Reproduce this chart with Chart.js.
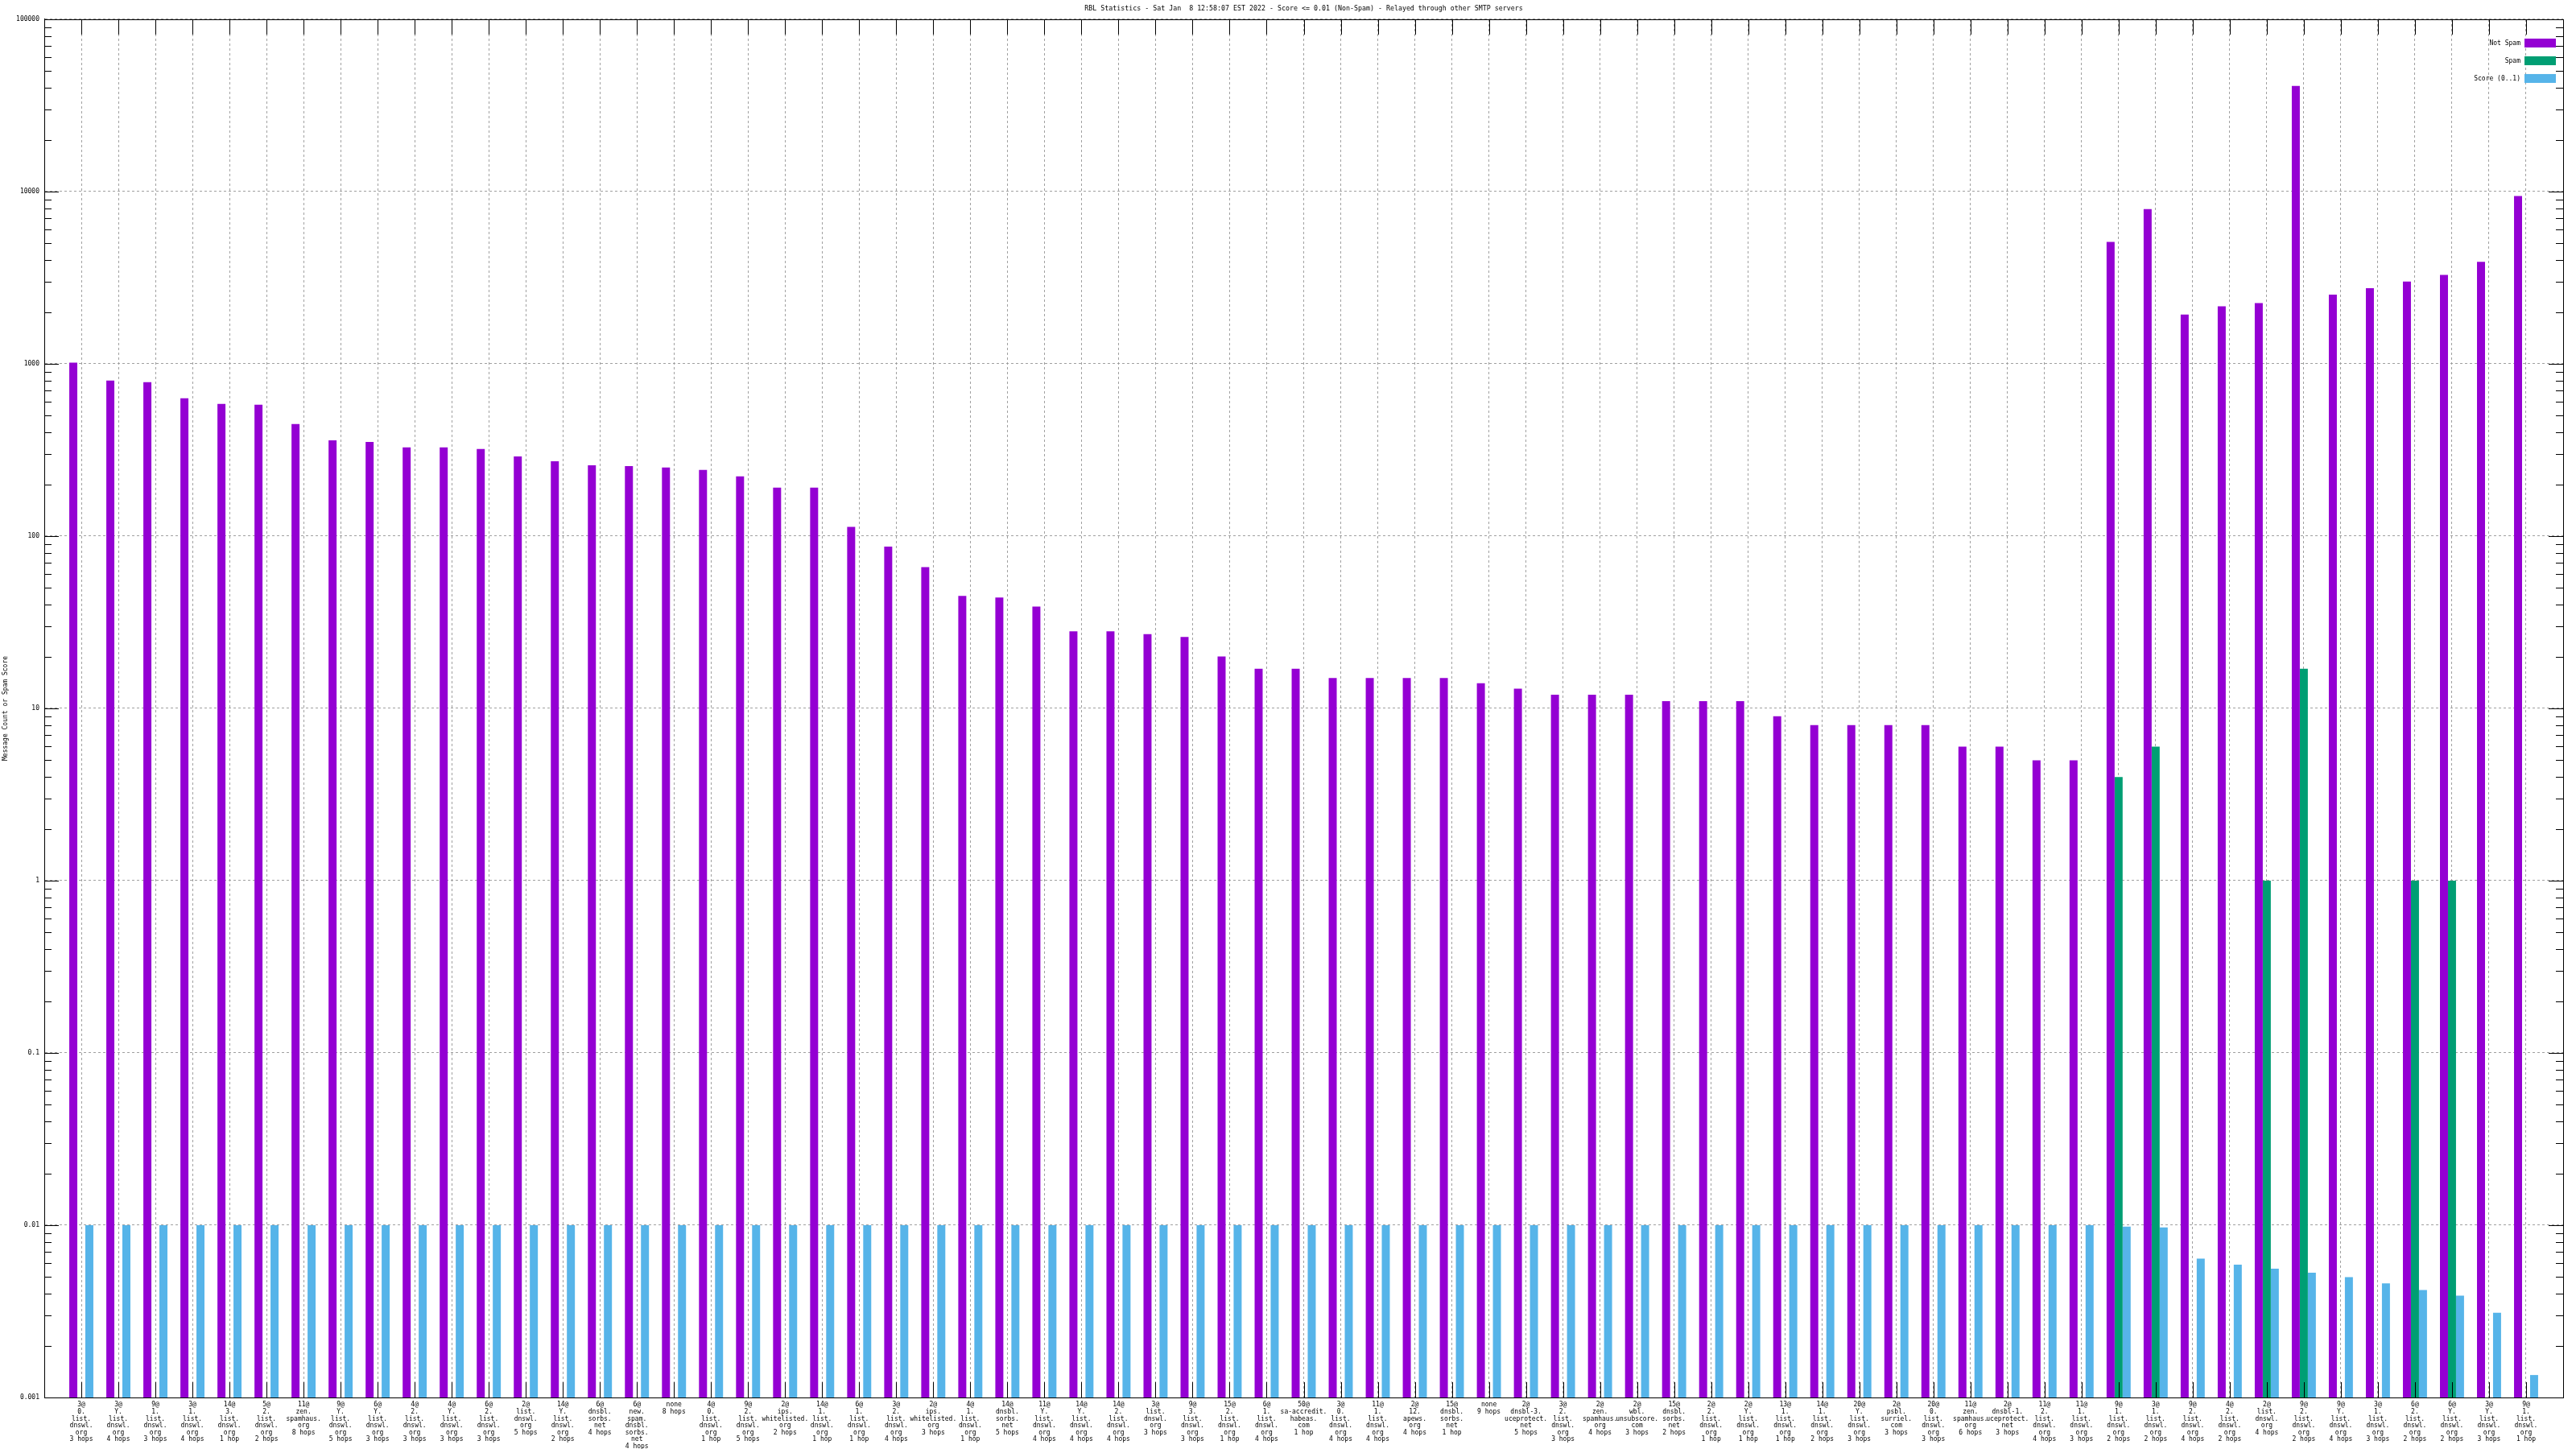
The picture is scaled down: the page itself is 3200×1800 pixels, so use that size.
<!DOCTYPE html>
<html>
<head>
<meta charset="utf-8">
<title>RBL Statistics</title>
<script src="https://cdn.jsdelivr.net/npm/chart.js@4.4.1/dist/chart.umd.min.js"></script>
<style>
  html, body { margin: 0; padding: 0; background: #fff; }
  canvas { display: block; }
</style>
</head>
<body>
<canvas id="rblChart" width="3200" height="1800"></canvas>
<script>
// data
var categories = [
    ['3@', '0.', 'list.', 'dnswl.', 'org', '3 hops'],
    ['3@', 'Y.', 'list.', 'dnswl.', 'org', '4 hops'],
    ['9@', '1.', 'list.', 'dnswl.', 'org', '3 hops'],
    ['3@', '1.', 'list.', 'dnswl.', 'org', '4 hops'],
    ['14@', '3.', 'list.', 'dnswl.', 'org', '1 hop'],
    ['5@', '2.', 'list.', 'dnswl.', 'org', '2 hops'],
    ['11@', 'zen.', 'spamhaus.', 'org', '8 hops'],
    ['9@', 'Y.', 'list.', 'dnswl.', 'org', '5 hops'],
    ['6@', 'Y.', 'list.', 'dnswl.', 'org', '3 hops'],
    ['4@', '2.', 'list.', 'dnswl.', 'org', '3 hops'],
    ['4@', 'Y.', 'list.', 'dnswl.', 'org', '3 hops'],
    ['6@', '2.', 'list.', 'dnswl.', 'org', '3 hops'],
    ['2@', 'list.', 'dnswl.', 'org', '5 hops'],
    ['14@', 'Y.', 'list.', 'dnswl.', 'org', '2 hops'],
    ['6@', 'dnsbl.', 'sorbs.', 'net', '4 hops'],
    ['6@', 'new.', 'spam.', 'dnsbl.', 'sorbs.', 'net', '4 hops'],
    ['none', '8 hops'],
    ['4@', '0.', 'list.', 'dnswl.', 'org', '1 hop'],
    ['9@', '2.', 'list.', 'dnswl.', 'org', '5 hops'],
    ['2@', 'ips.', 'whitelisted.', 'org', '2 hops'],
    ['14@', '1.', 'list.', 'dnswl.', 'org', '1 hop'],
    ['6@', '1.', 'list.', 'dnswl.', 'org', '1 hop'],
    ['3@', '2.', 'list.', 'dnswl.', 'org', '4 hops'],
    ['2@', 'ips.', 'whitelisted.', 'org', '3 hops'],
    ['4@', '1.', 'list.', 'dnswl.', 'org', '1 hop'],
    ['14@', 'dnsbl.', 'sorbs.', 'net', '5 hops'],
    ['11@', 'Y.', 'list.', 'dnswl.', 'org', '4 hops'],
    ['14@', 'Y.', 'list.', 'dnswl.', 'org', '4 hops'],
    ['14@', '2.', 'list.', 'dnswl.', 'org', '4 hops'],
    ['3@', 'list.', 'dnswl.', 'org', '3 hops'],
    ['9@', '3.', 'list.', 'dnswl.', 'org', '3 hops'],
    ['15@', '2.', 'list.', 'dnswl.', 'org', '1 hop'],
    ['6@', '1.', 'list.', 'dnswl.', 'org', '4 hops'],
    ['50@', 'sa-accredit.', 'habeas.', 'com', '1 hop'],
    ['3@', '0.', 'list.', 'dnswl.', 'org', '4 hops'],
    ['11@', '1.', 'list.', 'dnswl.', 'org', '4 hops'],
    ['2@', '12.', 'apews.', 'org', '4 hops'],
    ['15@', 'dnsbl.', 'sorbs.', 'net', '1 hop'],
    ['none', '9 hops'],
    ['2@', 'dnsbl-3.', 'uceprotect.', 'net', '5 hops'],
    ['3@', '2.', 'list.', 'dnswl.', 'org', '3 hops'],
    ['2@', 'zen.', 'spamhaus.', 'org', '4 hops'],
    ['2@', 'wbl.', 'unsubscore.', 'com', '3 hops'],
    ['15@', 'dnsbl.', 'sorbs.', 'net', '2 hops'],
    ['2@', '2.', 'list.', 'dnswl.', 'org', '1 hop'],
    ['2@', 'Y.', 'list.', 'dnswl.', 'org', '1 hop'],
    ['13@', '1.', 'list.', 'dnswl.', 'org', '1 hop'],
    ['14@', '1.', 'list.', 'dnswl.', 'org', '2 hops'],
    ['20@', 'Y.', 'list.', 'dnswl.', 'org', '3 hops'],
    ['2@', 'psbl.', 'surriel.', 'com', '3 hops'],
    ['20@', '0.', 'list.', 'dnswl.', 'org', '3 hops'],
    ['11@', 'zen.', 'spamhaus.', 'org', '6 hops'],
    ['2@', 'dnsbl-1.', 'uceprotect.', 'net', '3 hops'],
    ['11@', '2.', 'list.', 'dnswl.', 'org', '4 hops'],
    ['11@', '1.', 'list.', 'dnswl.', 'org', '3 hops'],
    ['9@', '1.', 'list.', 'dnswl.', 'org', '2 hops'],
    ['3@', '1.', 'list.', 'dnswl.', 'org', '2 hops'],
    ['9@', '2.', 'list.', 'dnswl.', 'org', '4 hops'],
    ['4@', '2.', 'list.', 'dnswl.', 'org', '2 hops'],
    ['2@', 'list.', 'dnswl.', 'org', '4 hops'],
    ['9@', '2.', 'list.', 'dnswl.', 'org', '2 hops'],
    ['9@', 'Y.', 'list.', 'dnswl.', 'org', '4 hops'],
    ['3@', '1.', 'list.', 'dnswl.', 'org', '3 hops'],
    ['6@', '2.', 'list.', 'dnswl.', 'org', '2 hops'],
    ['6@', 'Y.', 'list.', 'dnswl.', 'org', '2 hops'],
    ['3@', 'Y.', 'list.', 'dnswl.', 'org', '3 hops'],
    ['9@', '1.', 'list.', 'dnswl.', 'org', '1 hop']
];

var notSpam = [
    1015, 800, 783, 631, 586, 579, 447, 360, 352, 327, 327, 320,
    290, 272, 258, 255, 250, 242, 222, 191, 191, 113, 87, 66,
    45, 44, 39, 28, 28, 27, 26, 20, 17, 17, 15, 15,
    15, 15, 14, 13, 12, 12, 12, 11, 11, 11, 9, 8,
    8, 8, 8, 6, 6, 5, 5, 5100, 7900, 1930, 2160, 2250,
    41000, 2520, 2750, 3000, 3280, 3910, 9420
];

var spam = [
    0, 0, 0, 0, 0, 0, 0, 0, 0, 0, 0, 0,
    0, 0, 0, 0, 0, 0, 0, 0, 0, 0, 0, 0,
    0, 0, 0, 0, 0, 0, 0, 0, 0, 0, 0, 0,
    0, 0, 0, 0, 0, 0, 0, 0, 0, 0, 0, 0,
    0, 0, 0, 0, 0, 0, 0, 4, 6, 0, 0, 1,
    17, 0, 0, 1, 1, 0, 0
];

var score = [
    0.01, 0.01, 0.01, 0.01, 0.01, 0.01, 0.01, 0.01, 0.01, 0.01, 0.01, 0.01,
    0.01, 0.01, 0.01, 0.01, 0.01, 0.01, 0.01, 0.01, 0.01, 0.01, 0.01, 0.01,
    0.01, 0.01, 0.01, 0.01, 0.01, 0.01, 0.01, 0.01, 0.01, 0.01, 0.01, 0.01,
    0.01, 0.01, 0.01, 0.01, 0.01, 0.01, 0.01, 0.01, 0.01, 0.01, 0.01, 0.01,
    0.01, 0.01, 0.01, 0.01, 0.01, 0.01, 0.01, 0.0098, 0.0097, 0.0064, 0.0059, 0.0056,
    0.0053, 0.0050, 0.0046, 0.0042, 0.0039, 0.0031, 0.00135
];

var seriesNames  = ['Not Spam', 'Spam', 'Score (0..1)'];
var seriesColors = ['#9400d3', '#009e73', '#56b4e9'];
var yTicks       = [0.001, 0.01, 0.1, 1, 10, 100, 1000, 10000, 100000];
var yTickLabels  = ['0.001', '0.01', '0.1', '1', '10', '100', '1000', '10000', '100000'];
var chartTitle   = 'RBL Statistics - Sat Jan  8 12:58:07 EST 2022 - Score <= 0.01 (Non-Spam) - Relayed through other SMTP servers';

var MONO = "'DejaVu Sans Mono', monospace";
Chart.defaults.font.family = MONO;
Chart.defaults.color = '#000';

// gnuplot style frame: border, inward ticks on all sides, legend box top right
var framePlugin = {
    id: 'frame',
    beforeDraw: function(chart) {
        var ctx = chart.ctx;
        ctx.save();
        ctx.fillStyle = '#fff';
        ctx.fillRect(0, 0, chart.width, chart.height);
        ctx.restore();
    },
    afterDatasetsDraw: function(chart) {
        var ctx = chart.ctx;
        var a = chart.chartArea;
        var xs = chart.scales.x;
        var ys = chart.scales.y;
        ctx.save();
        ctx.strokeStyle = '#000';
        ctx.lineWidth = 1;
        ctx.beginPath();
        for (var e = -3; e < 5; e++) {
            for (var m = 1; m < 10; m++) {
                var py = Math.round(ys.getPixelForValue(m * Math.pow(10, e))) + 0.5;
                var len = (m === 1) ? 18 : 9;
                ctx.moveTo(a.left, py);  ctx.lineTo(a.left + len, py);
                ctx.moveTo(a.right, py); ctx.lineTo(a.right - len, py);
            }
        }
        for (var i = 0; i < categories.length; i++) {
            var px = Math.round(xs.getPixelForValue(i)) + 0.5;
            ctx.moveTo(px, a.bottom); ctx.lineTo(px, a.bottom - 19);
            ctx.moveTo(px, a.top);    ctx.lineTo(px, a.top + 19);
        }
        ctx.stroke();
        ctx.strokeRect(Math.round(a.left) + 0.5, Math.round(a.top) + 0.5,
                       Math.round(a.right - a.left), Math.round(a.bottom - a.top));

        ctx.font = '8px ' + MONO;
        ctx.textAlign = 'right';
        ctx.textBaseline = 'middle';
        for (var k = 0; k < seriesNames.length; k++) {
            var cy = a.top + 29.5 + k * 22;
            ctx.fillStyle = '#000';
            ctx.fillText(seriesNames[k], a.right - 53, cy);
            ctx.fillStyle = seriesColors[k];
            ctx.fillRect(a.right - 48, cy - 5.5, 39, 11);
        }
        ctx.restore();
    }
};

function makeDataset(idx, values) {
    return {
        label: seriesNames[idx],
        data: values,
        backgroundColor: seriesColors[idx],
        borderWidth: 0,
        categoryPercentage: 0.65,
        barPercentage: 1.0
    };
}

var ctx = document.getElementById('rblChart').getContext('2d');
var rblChart = new Chart(ctx, {
    type: 'bar',
    data: {
        labels: categories.map(function(c, i) { return i; }),
        datasets: [
            makeDataset(0, notSpam),
            makeDataset(1, spam),
            makeDataset(2, score)
        ]
    },
    options: {
        responsive: false,
        animation: false,
        devicePixelRatio: 1,
        layout: { padding: { left: 0, right: 16, top: 0, bottom: 0 } },
        plugins: {
            legend: { display: false },
            tooltip: { enabled: false },
            title: {
                display: true,
                fullSize: false,
                text: chartTitle,
                color: '#000',
                font: { size: 8.3, weight: 'normal', family: MONO },
                padding: { top: 6, bottom: 8 }
            }
        },
        scales: {
            x: {
                type: 'linear',
                min: -1,
                max: categories.length,
                offset: false,
                afterBuildTicks: function(scale) {
                    scale.ticks = categories.map(function(c, i) { return { value: i }; });
                },
                afterFit: function(scale) { scale.height = 64; },
                ticks: {
                    autoSkip: false,
                    maxRotation: 0,
                    minRotation: 0,
                    padding: 5,
                    font: { size: 8, lineHeight: 1.075 },
                    callback: function(value) { return categories[value]; }
                },
                grid: { color: '#a0a0a0', drawTicks: false, offset: false },
                border: { color: '#000', dash: [3, 3] }
            },
            y: {
                type: 'logarithmic',
                min: 0.001,
                max: 100000,
                afterBuildTicks: function(scale) {
                    scale.ticks = yTicks.map(function(v) { return { value: v }; });
                },
                afterFit: function(scale) { scale.width = 55; },
                ticks: {
                    padding: 6,
                    font: { size: 8 },
                    callback: function(value, index) { return yTickLabels[index]; }
                },
                grid: { color: '#a0a0a0', drawTicks: false },
                border: { color: '#000', dash: [3, 3] },
                title: {
                    display: true,
                    text: 'Message Count or Spam Score',
                    font: { size: 8 },
                    padding: { top: 2, bottom: 0 }
                }
            }
        }
    },
    plugins: [framePlugin]
});
</script>
</body>
</html>
